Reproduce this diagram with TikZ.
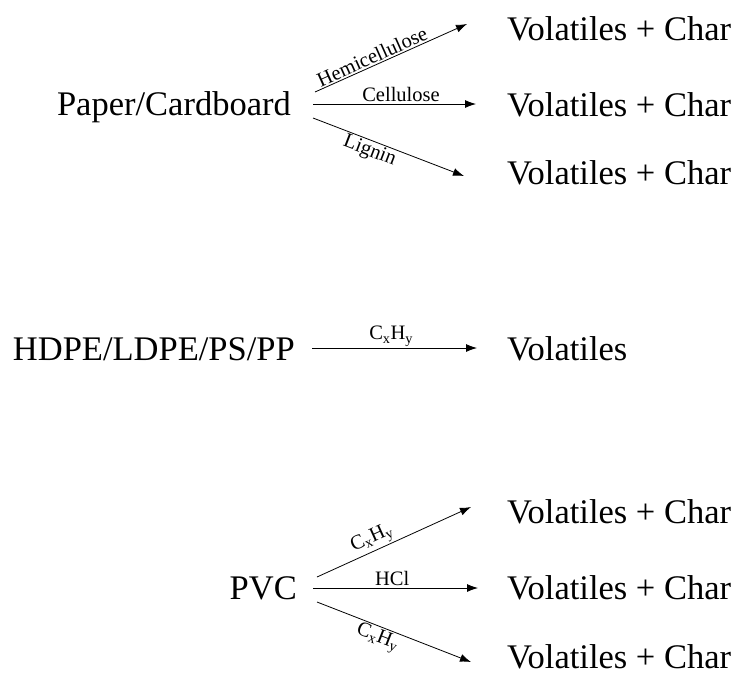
\documentclass[tikz,border=0pt]{standalone}
\usepackage{fontspec}
\setmainfont{Liberation Serif}
\usetikzlibrary{arrows.meta}
\begin{document}
\begin{tikzpicture}[x=1pt,y=-1pt,
  big/.style={font=\fontsize{34.5}{40}\selectfont, inner sep=0pt},
  lab/.style={font=\fontsize{20.5}{24}\selectfont, inner sep=1.5pt},
  rx/.style={-{Latex[length=11pt,width=8pt]}, line width=0.8pt}]
\useasboundingbox (0,0) rectangle (748,681);
% Paper / Cardboard group
\node[big, anchor=base east] (pc) at (291,115) {Paper/Cardboard};
\node[big, anchor=base west] (v1) at (507,40) {Volatiles + Char};
\node[big, anchor=base west] (v2) at (507,116) {Volatiles + Char};
\node[big, anchor=base west] (v3) at (507,184) {Volatiles + Char};
\coordinate (a1) at (315,92);
\coordinate (a2) at (313,104);
\coordinate (a3) at (313,118);
\coordinate (b1) at (467,24);
\coordinate (b2) at (476,104);
\coordinate (b3) at (464,176);
\draw[rx] (a1) -- (b1) node[lab, sloped, above, pos=0.4] {Hemicellulose};
\draw[rx] (a2) -- (b2) node[lab, above, pos=0.54] {Cellulose};
\draw[rx] (a3) -- (b3) node[lab, sloped, below, pos=0.4] {Lignin};
% HDPE group
\node[big, anchor=base east] (hd) at (295,360) {HDPE/LDPE/PS/PP};
\node[big, anchor=base west] (v4) at (507,360) {Volatiles};
\coordinate (a4) at (312,348);
\coordinate (b4) at (477,348);
\draw[rx] (a4) -- (b4) node[lab, above, pos=0.48] {C\textsubscript{x}H\textsubscript{y}};
% PVC group
\node[big, anchor=base east] (pv) at (297,599) {PVC};
\node[big, anchor=base west] (v5) at (507,523) {Volatiles + Char};
\node[big, anchor=base west] (v6) at (507,599) {Volatiles + Char};
\node[big, anchor=base west] (v7) at (507,668) {Volatiles + Char};
\coordinate (a5) at (317,577);
\coordinate (a6) at (313,588);
\coordinate (a7) at (317,602);
\coordinate (b5) at (471,507);
\coordinate (b6) at (478,588);
\coordinate (b7) at (471,662);
\draw[rx] (a5) -- (b5) node[lab, sloped, above, pos=0.39] {C\textsubscript{x}H\textsubscript{y}};
\draw[rx] (a6) -- (b6) node[lab, above, pos=0.48] {HCl};
\draw[rx] (a7) -- (b7) node[lab, sloped, below, pos=0.42] {C\textsubscript{x}H\textsubscript{y}};
\end{tikzpicture}
\end{document}
